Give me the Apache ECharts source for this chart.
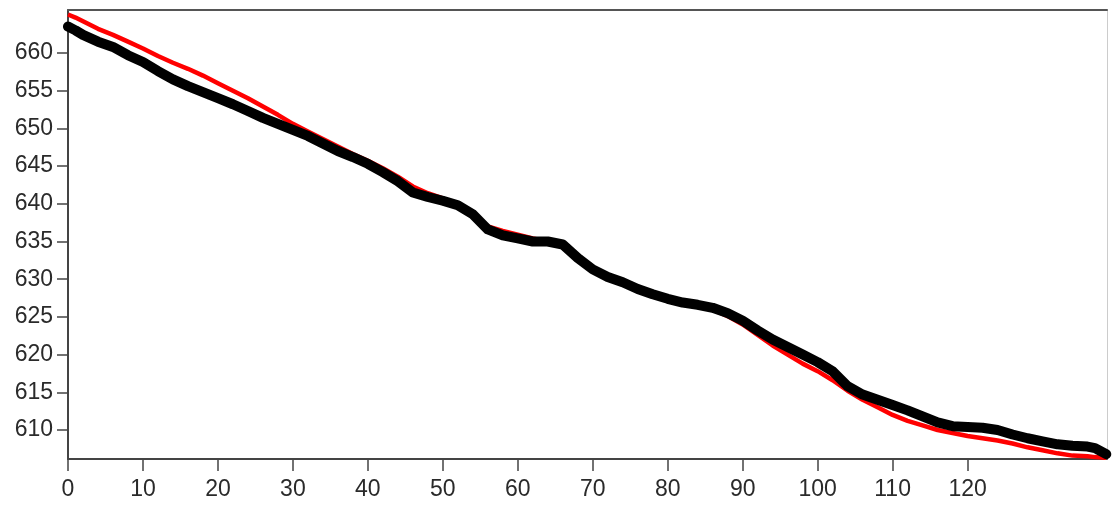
<!DOCTYPE html>
<html>
<head>
<meta charset="utf-8">
<script src="https://cdn.jsdelivr.net/npm/echarts@6/dist/echarts.min.js"></script>
<style>html,body{margin:0;padding:0;background:#fff;}#c{width:1112px;height:505px;}</style>
</head>
<body>
<div id="c"></div>
<script>
var xs = [0,1,2,4,6,8,10,12,14,16,18,20,22,24,26,28,30,32,34,36,38,40,42,44,46,48,50,52,54,56,58,60,62,64,66,68,70,72,74,76,78,80,82,84,86,88,90,92,94,96,98,100,102,104,106,108,110,112,114,116,118,120,122,124,126,128,130,132,134,136,137,138.5];
var blackY = [663.5,663.0,662.4,661.5,660.8,659.7,658.8,657.6,656.5,655.6,654.8,654.0,653.2,652.3,651.4,650.6,649.8,649.0,648.0,647.0,646.2,645.3,644.2,643.0,641.5,640.9,640.4,639.8,638.6,636.6,635.8,635.4,635.0,635.0,634.6,632.8,631.3,630.3,629.6,628.7,628.0,627.4,626.9,626.6,626.2,625.5,624.5,623.2,622.0,621.0,620.0,619.0,617.8,615.8,614.7,614.0,613.3,612.6,611.8,611.0,610.5,610.4,610.3,610.0,609.4,608.9,608.5,608.1,607.9,607.8,607.6,606.8];
var redY = [665.1,664.7,664.2,663.2,662.4,661.5,660.6,659.6,658.7,657.9,657.0,656.0,655.0,654.0,652.9,651.8,650.6,649.6,648.6,647.6,646.6,645.7,644.7,643.6,642.3,641.4,640.7,639.9,638.6,637.0,636.4,635.9,635.4,635.0,634.2,632.6,631.2,630.2,629.4,628.6,627.9,627.3,626.8,626.4,626.0,625.1,624.0,622.6,621.2,620.0,618.8,617.8,616.6,615.2,614.0,613.0,612.0,611.2,610.6,610.0,609.6,609.2,608.9,608.6,608.2,607.7,607.3,606.9,606.6,606.5,606.4,606.3];
var xTicks = [0,10,20,30,40,50,60,70,80,90,100,110,120];
var yTicks = [610,615,620,625,630,635,640,645,650,655,660];

function pairs(x, y){ return x.map(function(v,i){ return [v, y[i]]; }); }

var chart = echarts.init(document.getElementById('c'), null, {renderer:'canvas'});
var lbl = {fontFamily:'Liberation Sans, Arial, sans-serif', fontSize:23, color:'#2a2a2a'};
chart.setOption({
  animation:false,
  backgroundColor:'#fff',
  grid:{left:68, top:10, right:5, bottom:46, containLabel:false},
  xAxis:[{
    type:'value', min:0, max:138.6, position:'bottom',
    axisLine:{show:true, onZero:false, lineStyle:{color:'#444', width:2}},
    axisTick:{show:true, length:12, customValues:xTicks, lineStyle:{color:'#444', width:1.5}},
    axisLabel:Object.assign({margin:19, customValues:xTicks}, lbl),
    splitLine:{show:false}
  },{
    type:'value', min:0, max:138.6, position:'top',
    axisLine:{show:true, onZero:false, lineStyle:{color:'#555', width:2}},
    axisTick:{show:false}, axisLabel:{show:false}, splitLine:{show:false}
  }],
  yAxis:[{
    type:'value', min:606.15, max:665.7, position:'left',
    axisLine:{show:true, onZero:false, lineStyle:{color:'#444', width:2}},
    axisTick:{show:true, length:11, customValues:yTicks, lineStyle:{color:'#444', width:1.5}},
    axisLabel:Object.assign({margin:15, customValues:yTicks, padding:[6,0,0,0]}, lbl),
    splitLine:{show:false}
  },{
    type:'value', min:606.15, max:665.7, position:'right',
    axisLine:{show:true, onZero:false, lineStyle:{color:'#ccc', width:1}},
    axisTick:{show:false}, axisLabel:{show:false}, splitLine:{show:false}
  }],
  series:[{
    type:'line', name:'red', data:pairs(xs, redY), symbol:'none', clip:false,
    lineStyle:{color:'#ff0000', width:4.5}
  },{
    type:'line', name:'black', data:pairs(xs, blackY), symbol:'none', clip:false,
    lineStyle:{color:'#000', width:10, cap:'round', join:'round'}
  }]
});
</script>
</body>
</html>
